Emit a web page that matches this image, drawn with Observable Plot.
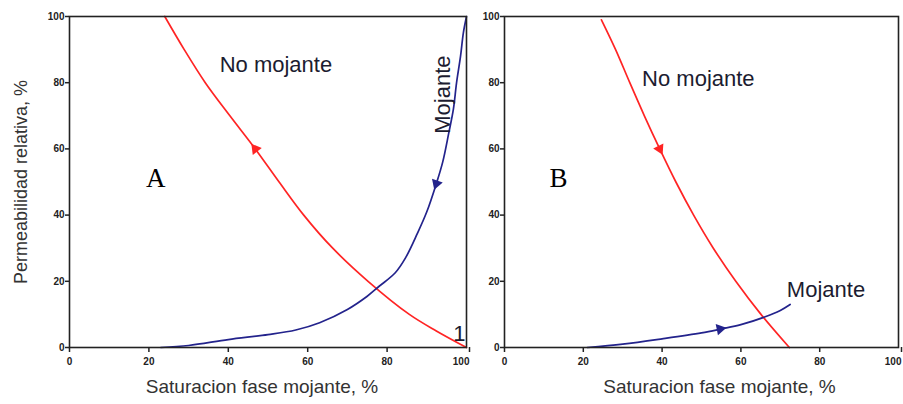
<!DOCTYPE html>
<html><head><meta charset="utf-8">
<script src="https://cdn.jsdelivr.net/npm/d3@7"></script>
<script src="https://cdn.jsdelivr.net/npm/@observablehq/plot@0.6"></script>
<style>
body{margin:0;background:#fff;}
#wrap{position:relative;width:903px;height:404px;overflow:hidden;}
#a{position:absolute;left:0;top:0}
#b{position:absolute;left:470px;top:0}
svg{overflow:visible}
</style></head><body><div id="wrap"><div id="a"></div><div id="b"></div></div>
<script>
// ---- data ----
const ticks = [0, 20, 40, 60, 80, 100];
const tickLabels = ["0", "20", "40", "60", "80", "100"];
const xTitle = "Saturacion fase mojante, %";
const yTitle = "Permeabilidad relativa, %";
const seriesNames = ["No mojante", "Mojante"];

// Panel A (drainage)
const aNoMojX = [24, 28.9, 34.2, 40.4, 46.8, 52.8, 59, 66.3, 75.2, 85.6, 92.4, 100];
const aNoMojY = [100, 90, 80, 70, 60, 50, 40, 30, 20, 10, 5, 0];
const aMojX = [23, 30, 40, 50, 57, 63, 70, 75, 78, 82, 84.6, 87.6, 90, 92.4, 94, 95.5, 96.7, 97.5, 98.5, 99.2, 100];
const aMojY = [0, 0.6, 2.4, 3.9, 5.3, 7.5, 11.5, 15.5, 18.5, 22.5, 27, 34.4, 41, 49.5, 56, 64.6, 72, 80, 88, 95, 100];
// arrows: position on curve and the neighbouring curve point they point toward
const aArrows = [
  {series: "No mojante", x: 46.8, y: 60, tx: 40.4, ty: 70},
  {series: "Mojante", x: 92.4, y: 49.5, tx: 90, ty: 41}
];
const aLabels = [
  {text: "No mojante", x: 52, y: 85.5, rotate: 0},
  {text: "Mojante", x: 94, y: 76.4, rotate: -90},
  {text: "1", x: 98.2, y: 4.2, rotate: 0}
];
const aLetter = {text: "A", x: 21.7, y: 51};

// Panel B (imbibition)
const bNoMojX = [24.6, 28.2, 31.8, 35.5, 39.4, 43.5, 48, 53, 58.7, 65.1, 72.3];
const bNoMojY = [99, 90, 80, 70, 60, 50, 40, 30, 20, 10, 0];
const bMojX = [21, 30, 40, 50, 55, 60, 66, 70, 72.5];
const bMojY = [0, 1, 2.6, 4.4, 5.6, 6.9, 9.2, 11.2, 13];
const bArrows = [
  {series: "No mojante", x: 39.4, y: 60, tx: 43.5, ty: 50},
  {series: "Mojante", x: 54.7, y: 5.6, tx: 60, ty: 6.9}
];
const bLabels = [
  {text: "No mojante", x: 49.2, y: 81, rotate: 0},
  {text: "Mojante", x: 81.6, y: 17.5, rotate: 0}
];
const bLetter = {text: "B", x: 13.7, y: 51};

// ---- drawing ----
const RED = "#ff2424";
const BLUE = "#23238c";
const SANS = "Liberation Sans, Arial, sans-serif";
const colorOf = s => s === "No mojante" ? RED : BLUE;

function panel({nmX, nmY, mX, mY, arrows, labels, letter, width, marginLeft, marginRight, showY, xTitleDx}) {
  const height = 404, marginTop = 16, marginBottom = 57;
  const kx = (width - marginLeft - marginRight) / 100;
  const ky = (height - marginTop - marginBottom) / 100;
  const nm = nmX.map((x, i) => ({x, y: nmY[i]}));
  const m = mX.map((x, i) => ({x, y: mY[i]}));
  const arr = arrows.map(a => ({...a, rot: Math.atan2((a.tx - a.x) * kx, (a.ty - a.y) * ky) * 180 / Math.PI}));
  const tickStyle = {fontSize: 10, fontWeight: "bold", fill: "#222", stroke: "#222", strokeWidth: 1.5, fontFamily: SANS, label: null};
  const marks = [
    Plot.line(nm, {x: "x", y: "y", stroke: RED, strokeWidth: 1.7, curve: "catmull-rom"}),
    Plot.line(m, {x: "x", y: "y", stroke: BLUE, strokeWidth: 1.7, curve: "catmull-rom"}),
    Plot.dot(arr, {x: "x", y: "y", symbol: "triangle", r: 4.2, rotate: "rot", fill: d => colorOf(d.series), stroke: "none"}),
    Plot.frame({stroke: "#222", strokeWidth: 1.6}),
    Plot.axisX({...tickStyle, ticks: ticks.slice(0, -1), tickFormat: (d, i) => tickLabels[i], tickSize: 5, tickPadding: 5}),
    Plot.axisX({...tickStyle, ticks: ticks.slice(-1), tickFormat: () => tickLabels[tickLabels.length - 1], tickSize: 5, tickPadding: 5, textAnchor: "end", dx: 3}),
    Plot.axisY({...tickStyle, ticks, tickFormat: (d, i) => tickLabels[i], tickSize: 4, tickPadding: 1}),
    Plot.text(labels, {x: "x", y: "y", text: "text", rotate: "rotate", fontSize: 22, fill: "#1c1c30", fontFamily: SANS}),
    Plot.text([letter], {x: "x", y: "y", text: "text", fontSize: 27, fill: "#000", fontFamily: "Liberation Serif, Times New Roman, serif"}),
    Plot.text([xTitle], {frameAnchor: "bottom", textAnchor: "middle", dy: 45, dx: xTitleDx, fontSize: 19, fill: "#333", fontFamily: SANS})
  ];
  if (showY) marks.push(Plot.text([yTitle], {frameAnchor: "left", textAnchor: "middle", dx: -48, rotate: -90, fontSize: 18, fill: "#333", fontFamily: SANS}));
  return Plot.plot({
    width, height, marginTop, marginBottom, marginLeft, marginRight,
    x: {domain: [0, 100], axis: null},
    y: {domain: [0, 100], axis: null},
    style: {background: "transparent", fontFamily: SANS},
    marks
  });
}

document.getElementById("a").append(panel({
  nmX: aNoMojX, nmY: aNoMojY, mX: aMojX, mY: aMojY, arrows: aArrows, labels: aLabels, letter: aLetter,
  width: 470, marginLeft: 69, marginRight: 4, showY: true, xTitleDx: -6
}));
document.getElementById("b").append(panel({
  nmX: bNoMojX, nmY: bNoMojY, mX: bMojX, mY: bMojY, arrows: bArrows, labels: bLabels, letter: bLetter,
  width: 433, marginLeft: 34, marginRight: 5, showY: false, xTitleDx: 18
}));
</script></body></html>
